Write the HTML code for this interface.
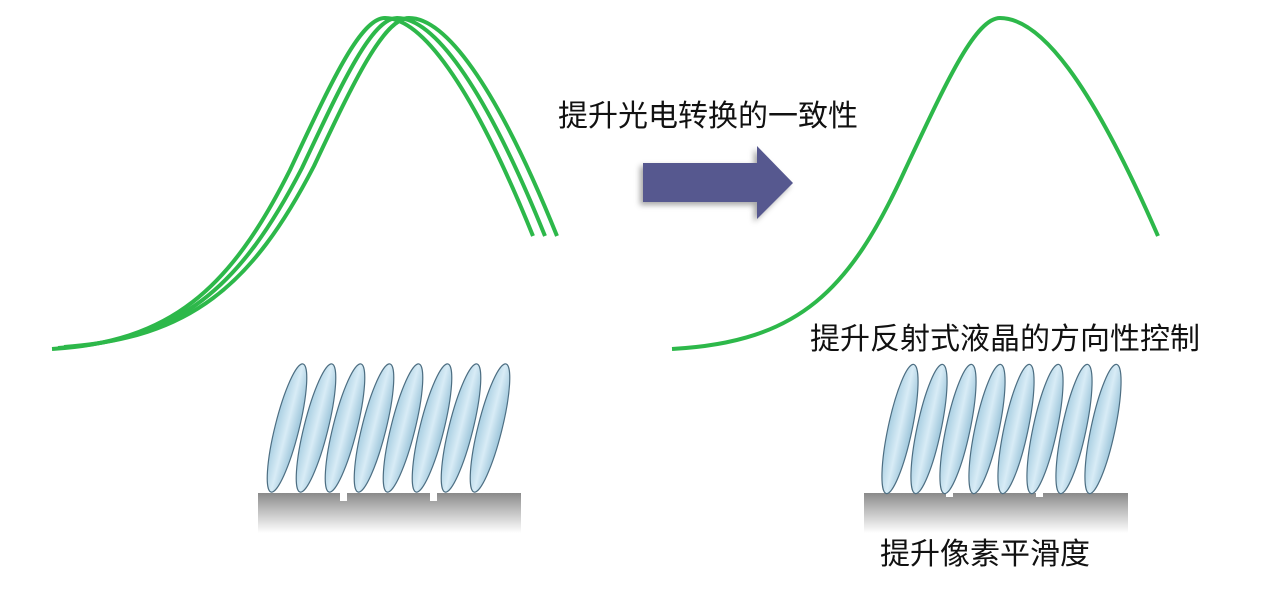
<!DOCTYPE html>
<html><head><meta charset="utf-8"><style>
body{margin:0;width:1280px;height:600px;background:#fff;overflow:hidden}
svg{position:absolute;left:0;top:0}
text{font-family:"Liberation Sans","Noto Sans CJK SC",sans-serif;fill:#111}
</style></head><body>
<svg width="1280" height="600" viewBox="0 0 1280 600">
<defs>
<linearGradient id="sub" x1="0" y1="0" x2="0" y2="1">
<stop offset="0" stop-color="#8a8a8a"/><stop offset="0.35" stop-color="#b5b5b5"/><stop offset="1" stop-color="#ffffff"/></linearGradient>
<linearGradient id="lc" x1="0" y1="0" x2="1" y2="0">
<stop offset="0" stop-color="#a9cfe2"/><stop offset="0.5" stop-color="#d8ecf6"/><stop offset="1" stop-color="#9cc5da"/></linearGradient>
<filter id="sh"><feDropShadow dx="-3" dy="3" stdDeviation="3" flood-color="#000" flood-opacity="0.35"/></filter>
</defs>
<g fill="none" stroke="#2db84a" stroke-width="4">
<path d="M52,349 C170,342 230,290 290,170 C330,85 360,18 385,18 C420,18 470,80 533,236"/>
<path d="M58,348 C180,340 240,288 302,168 C342,83 372,18 397,18 C432,18 482,80 545,236"/>
<path d="M64,347 C190,338 252,286 314,166 C354,81 384,18 409,18 C444,18 494,80 557,236"/>
<path d="M672,349 C800,342 850,290 905,170 C945,85 975,18 1000,18 C1040,18 1090,80 1158,236"/>
</g>
<text x="558" y="126" font-size="30">提升光电转换的一致性</text>
<text x="810" y="349" font-size="30">提升反射式液晶的方向性控制</text>
<text x="880" y="564" font-size="30">提升像素平滑度</text>
<polygon points="643,163 757,163 757,146 793,183 757,219 757,202 643,202" fill="#56598f" filter="url(#sh)"/>
<rect x="258" y="493" width="263" height="40" fill="url(#sub)"/>
<rect x="340" y="493" width="7" height="8" fill="#fff"/>
<rect x="430" y="493" width="7" height="8" fill="#fff"/>
<rect x="864" y="493" width="264" height="40" fill="url(#sub)"/>
<rect x="946" y="493" width="7" height="4" fill="#fff"/>
<rect x="1036" y="493" width="7" height="4" fill="#fff"/>
<g fill="url(#lc)" stroke="#4d6e82" stroke-width="1.2">
<ellipse cx="0" cy="0" rx="12" ry="66" transform="translate(287,428) rotate(14)"/>
<ellipse cx="0" cy="0" rx="12" ry="66" transform="translate(316,428) rotate(14)"/>
<ellipse cx="0" cy="0" rx="12" ry="66" transform="translate(345,428) rotate(14)"/>
<ellipse cx="0" cy="0" rx="12" ry="66" transform="translate(374,428) rotate(14)"/>
<ellipse cx="0" cy="0" rx="12" ry="66" transform="translate(403,428) rotate(14)"/>
<ellipse cx="0" cy="0" rx="12" ry="66" transform="translate(432,428) rotate(14)"/>
<ellipse cx="0" cy="0" rx="12" ry="66" transform="translate(461,428) rotate(14)"/>
<ellipse cx="0" cy="0" rx="12" ry="66" transform="translate(490,428) rotate(14)"/>
<ellipse cx="0" cy="0" rx="12" ry="66" transform="translate(900,429) rotate(12)"/>
<ellipse cx="0" cy="0" rx="12" ry="66" transform="translate(929,429) rotate(12)"/>
<ellipse cx="0" cy="0" rx="12" ry="66" transform="translate(958,429) rotate(12)"/>
<ellipse cx="0" cy="0" rx="12" ry="66" transform="translate(987,429) rotate(12)"/>
<ellipse cx="0" cy="0" rx="12" ry="66" transform="translate(1016,429) rotate(12)"/>
<ellipse cx="0" cy="0" rx="12" ry="66" transform="translate(1045,429) rotate(12)"/>
<ellipse cx="0" cy="0" rx="12" ry="66" transform="translate(1074,429) rotate(12)"/>
<ellipse cx="0" cy="0" rx="12" ry="66" transform="translate(1103,429) rotate(12)"/>
</g>
</svg>
</body></html>
